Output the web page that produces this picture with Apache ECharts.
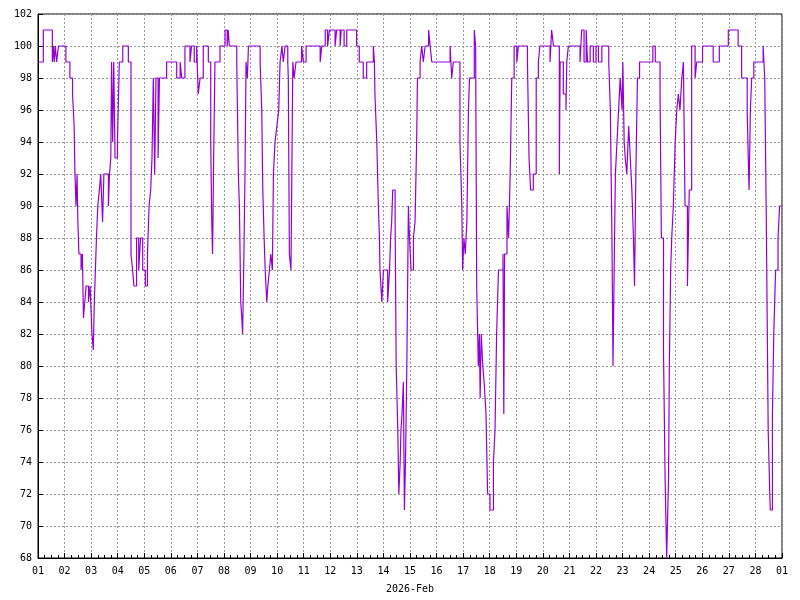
<!DOCTYPE html>
<html><head><meta charset="utf-8">
<script src="https://cdn.jsdelivr.net/npm/echarts@6/dist/echarts.min.js"></script>
<style>html,body{margin:0;padding:0;background:#fff}#c{width:800px;height:600px}</style>
</head><body><div id="c"></div>
<script>
// [days since 2026-02-01 00:00, value]
const week1 = [[0,99],[0.2,101],[0.54,99],[0.58,100],[0.61,99],[0.65,100],[0.7,99],[0.77,100],[1.05,99],[1.2,98],[1.3,97],[1.36,95],[1.39,92],[1.43,90],[1.47,92],[1.5,89],[1.54,87],[1.62,86],[1.67,87],[1.71,83],[1.76,84],[1.81,85],[1.9,84],[1.96,85],[2.03,82],[2.08,81],[2.12,84],[2.16,86],[2.2,88],[2.25,90],[2.31,91],[2.36,92],[2.43,89],[2.48,92],[2.65,90],[2.69,92],[2.74,93],[2.77,99],[2.81,94],[2.85,99],[2.9,93],[2.99,94],[3.06,99],[3.19,100],[3.4,99],[3.5,87],[3.56,86],[3.61,85],[3.71,88],[3.79,86],[3.86,88],[3.94,86],[4.04,85],[4.12,87],[4.18,90],[4.24,91],[4.29,93],[4.34,98],[4.39,92],[4.44,98],[4.52,93],[4.57,98],[4.84,99],[5.22,98],[5.35,99],[5.41,98],[5.53,100],[5.72,99],[5.78,100],[5.88,99],[5.97,100],[6.03,97],[6.1,98],[6.22,100],[6.41,99],[6.5,94],[6.54,89],[6.57,87],[6.61,93],[6.66,99],[6.85,100],[7.04,101],[7.12,100],[7.16,101],[7.2,100]];
const week2 = [[7.48,99],[7.54,92],[7.58,90],[7.63,84],[7.67,83],[7.7,82],[7.73,85],[7.75,87],[7.79,92],[7.83,99],[7.88,98],[7.92,100],[8.36,99],[8.42,96],[8.46,91],[8.51,88],[8.55,86],[8.61,84],[8.65,85],[8.71,86],[8.76,87],[8.82,86],[8.86,92],[8.92,94],[8.99,95],[9.06,96],[9.11,99],[9.18,100],[9.23,99],[9.3,100],[9.4,99],[9.42,98],[9.46,87],[9.52,86],[9.59,99],[9.64,98],[9.71,99],[9.92,100],[9.99,99],[10.09,100],[10.62,99],[10.68,100],[10.81,101],[10.9,100],[10.97,101],[11.18,100],[11.24,101],[11.37,100],[11.41,101],[11.52,100],[11.62,101],[11.99,100],[12.09,99],[12.24,98],[12.37,99],[12.62,100],[12.66,99],[12.68,97],[12.75,94],[12.81,90],[12.85,88],[12.87,86],[12.94,84],[13.0,86],[13.16,84],[13.23,86],[13.27,88],[13.31,89],[13.35,91],[13.44,89],[13.48,80],[13.54,76],[13.58,72],[13.63,74],[13.66,76],[13.7,77],[13.75,79],[13.79,71],[13.83,74],[13.88,80],[13.94,90],[13.98,88]];
const week3 = [[14.04,86],[14.13,88],[14.19,89],[14.25,94],[14.28,98],[14.38,99],[14.44,100],[14.5,99],[14.57,100],[14.7,101],[14.76,100],[14.82,99],[15.51,100],[15.57,98],[15.63,99],[15.88,94],[15.95,90],[15.98,86],[16.03,88],[16.08,87],[16.14,89],[16.2,96],[16.24,98],[16.42,101],[16.47,100],[16.51,85],[16.57,80],[16.61,82],[16.64,78],[16.68,82],[16.74,80],[16.79,79],[16.86,77],[16.92,72],[17.01,71],[17.14,74],[17.2,76],[17.26,82],[17.33,86],[17.5,87],[17.53,77],[17.56,87],[17.65,90],[17.71,88],[17.77,92],[17.83,98],[17.92,100],[18.02,99],[18.08,100],[18.42,99],[18.48,93],[18.54,91],[18.64,92],[18.75,98],[18.83,99],[18.89,100],[19.27,99],[19.33,101],[19.4,100],[19.62,92],[19.65,99],[19.77,97],[19.87,96],[19.9,99],[19.96,100],[20.4,99],[20.46,101],[20.55,99],[20.63,101],[20.68,99],[20.78,100],[20.9,99],[21.0,100],[21.09,99],[21.22,100]];
const week4 = [[21.48,99],[21.54,96],[21.6,88],[21.64,80],[21.69,87],[21.73,92],[21.79,94],[21.85,96],[21.91,98],[21.98,96],[22.01,99],[22.06,94],[22.1,93],[22.16,92],[22.23,95],[22.29,93],[22.35,91],[22.41,88],[22.45,85],[22.5,92],[22.56,98],[22.64,99],[23.14,100],[23.23,99],[23.41,97],[23.46,88],[23.54,81],[23.6,73],[23.66,68],[23.73,73],[23.76,80],[23.81,86],[23.85,88],[23.91,90],[23.98,94],[24.04,96],[24.1,97],[24.16,96],[24.23,98],[24.29,99],[24.35,90],[24.44,85],[24.51,91],[24.6,100],[24.73,98],[24.79,99],[25.01,100],[25.41,99],[25.64,100],[25.98,101],[26.35,100],[26.48,98],[26.69,96],[26.73,93],[26.76,91],[26.81,96],[26.86,98],[26.94,99],[27.29,100],[27.35,98],[27.41,89],[27.48,76],[27.54,72],[27.56,71],[27.64,77],[27.69,82],[27.76,86],[27.85,88],[27.91,90],[28,90]];
const yTicks = {min:68, max:102, step:2};
const xLabel = '2026-Feb';

const data = week1.concat(week2, week3, week4);
const font = 'DejaVu Sans Mono';
const chart = echarts.init(document.getElementById('c'));
chart.setOption({
  animation:false,
  grid:{left:38,right:18,top:14,bottom:42,show:true,borderColor:'#000',borderWidth:1},
  xAxis:{type:'value',min:0,max:28,interval:1,name:xLabel,nameLocation:'middle',nameGap:26,
    nameTextStyle:{fontFamily:font,fontSize:10,color:'#000'},
    axisLine:{lineStyle:{color:'#000'}},
    axisTick:{inside:true,length:5,lineStyle:{color:'#000'}},
    minorTick:{show:true,splitNumber:4,length:3,lineStyle:{color:'#000'}},
    axisLabel:{fontFamily:font,fontSize:10,color:'#000',margin:8,
      formatter:v=>{const d=v<28?v+1:1;return (d<10?'0':'')+d;}},
    splitLine:{show:true,lineStyle:{color:'#999',type:[2,2]}}},
  yAxis:{type:'value',min:yTicks.min,max:yTicks.max,interval:yTicks.step,
    axisLine:{show:true,lineStyle:{color:'#000'}},
    axisTick:{show:true,inside:true,length:5,lineStyle:{color:'#000'}},
    axisLabel:{fontFamily:font,fontSize:10,color:'#000',margin:6},
    splitLine:{show:true,lineStyle:{color:'#999',type:[2,2]}}},
  series:[{type:'line',step:'end',data:data,symbol:'none',
    lineStyle:{color:'#9400d3',width:1.2}}]
});
</script></body></html>
